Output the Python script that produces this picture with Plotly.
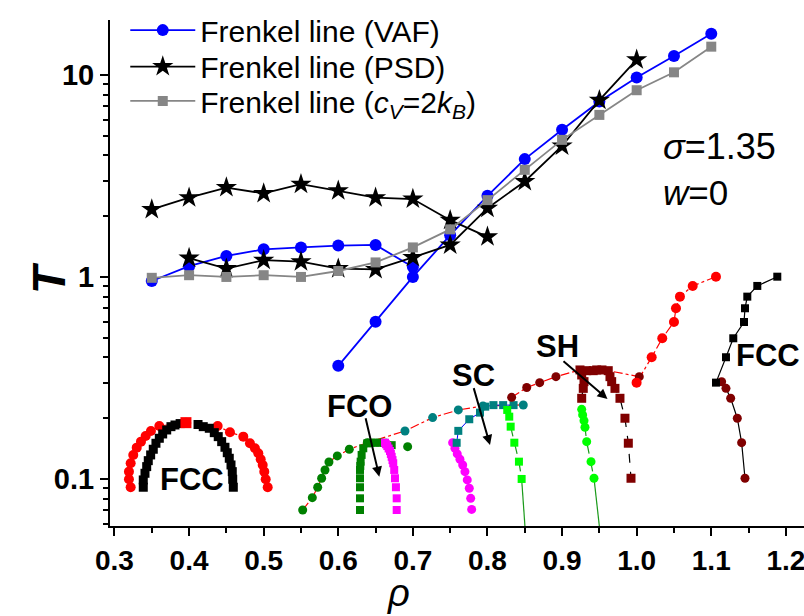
import math
import plotly.graph_objects as go

# ---------------- Frenkel lines ----------------
vaf_hi_rho = [0.35, 0.40, 0.45, 0.50, 0.55, 0.60, 0.65, 0.70]
vaf_hi_T = [0.955, 1.13, 1.27, 1.37, 1.40, 1.43, 1.44, 1.12]
vaf_lo_rho = [0.60, 0.65, 0.70, 0.75, 0.80, 0.85, 0.90, 0.95, 1.00, 1.05, 1.10]
vaf_lo_T = [0.363, 0.60, 1.0, 1.61, 2.52, 3.83, 5.35, 7.38, 9.7, 12.4, 16.0]

psd_hi_rho = [0.35, 0.40, 0.45, 0.50, 0.55, 0.60, 0.65, 0.70, 0.75, 0.80]
psd_hi_T = [2.16, 2.47, 2.77, 2.59, 2.88, 2.67, 2.47, 2.43, 1.91, 1.58]
psd_lo_rho = [0.40, 0.45, 0.50, 0.55, 0.60, 0.65, 0.70, 0.75, 0.80, 0.85, 0.90, 0.95, 1.00]
psd_lo_T = [1.24, 1.10, 1.21, 1.19, 1.10, 1.09, 1.25, 1.44, 2.19, 2.97, 4.45, 7.5, 11.9]

cv_rho = [0.35, 0.40, 0.45, 0.50, 0.55, 0.60, 0.65, 0.70, 0.75, 0.80, 0.85, 0.90, 0.95, 1.00, 1.05, 1.10]
cv_T = [0.99, 1.02, 1.0, 1.02, 1.0, 1.07, 1.18, 1.40, 1.72, 2.40, 3.39, 4.77, 6.34, 8.4, 10.3, 13.8]

# ---------------- phase diagram ----------------
# low-density FCC dome
fccL_liq_rho = [0.3217, 0.3194, 0.3194, 0.3217, 0.3252, 0.3298, 0.3355, 0.3418, 0.3489, 0.3601, 0.3958,
                0.4383, 0.4548, 0.4727, 0.4816, 0.4883, 0.4928, 0.4960, 0.4987, 0.5008, 0.5027, 0.5054]
fccL_liq_T = [0.0910, 0.0997, 0.1087, 0.1196, 0.1315, 0.1429, 0.1530, 0.1633, 0.1728, 0.1829, 0.1900,
              0.1829, 0.1703, 0.1620, 0.1502, 0.1419, 0.1340, 0.1252, 0.1173, 0.1087, 0.0997, 0.0910]
fccL_top_rho = [0.3958]
fccL_top_T = [0.1900]
fccL_sol_rho = [0.3386, 0.3386, 0.3409, 0.3432, 0.3453, 0.3485, 0.3520, 0.3556, 0.3601, 0.3646, 0.3700,
                0.3757, 0.3811, 0.3880, 0.4120, 0.4190, 0.4271, 0.4338, 0.4391, 0.4437, 0.4481, 0.4512,
                0.4539, 0.4562, 0.4579, 0.4585, 0.4593]
fccL_sol_T = [0.0910, 0.0989, 0.1067, 0.1151, 0.1232, 0.1315, 0.1403, 0.1502, 0.1590, 0.1670, 0.1748,
              0.1815, 0.1850, 0.1880, 0.1860, 0.1815, 0.1782, 0.1695, 0.1620, 0.1530, 0.1435, 0.1349,
              0.1266, 0.1173, 0.1087, 0.0997, 0.0910]

# FCO
fco_liq_rho = [0.5523, 0.5652, 0.5724, 0.5777, 0.5822, 0.5875, 0.5987, 0.6148, 0.6389]
fco_liq_T = [0.0702, 0.0808, 0.0910, 0.1008, 0.1108, 0.1214, 0.1300, 0.1403, 0.1512]
fco_liq2_rho = [0.693]
fco_liq2_T = [0.1445]
fco_sol_rho = [0.6291, 0.6291, 0.6291, 0.6291, 0.6291, 0.6295, 0.6300, 0.6313, 0.6335, 0.6389, 0.6440,
               0.6492, 0.6550, 0.6604, 0.6716]
fco_sol_T = [0.0702, 0.0802, 0.0910, 0.1008, 0.1108, 0.1160, 0.1218, 0.1315, 0.1419, 0.1500, 0.1512,
             0.1512, 0.1512, 0.1512, 0.1470]
mag_sq_rho = [0.6783, 0.6783, 0.6773, 0.6760, 0.6750, 0.6737, 0.6727, 0.6716, 0.6705, 0.6693, 0.6675,
              0.6657, 0.6640, 0.6626]
mag_sq_T = [0.0702, 0.0802, 0.0910, 0.1008, 0.1108, 0.1196, 0.1240, 0.1287, 0.1330, 0.1375, 0.1415,
            0.1455, 0.1485, 0.1512]
mag_ci_rho = [0.7533, 0.7564, 0.7595, 0.7631, 0.7668, 0.7698, 0.7729, 0.7756, 0.7775, 0.7788]
mag_ci_T = [0.1512, 0.1419, 0.1330, 0.1252, 0.1173, 0.1087, 0.0989, 0.0900, 0.0802, 0.0707]

# SC
sc_liq_rho = [0.6894, 0.7265, 0.7609, 0.7940, 0.8480]
sc_liq_T = [0.1728, 0.2012, 0.2196, 0.2298, 0.2324]
sc_sol_rho = [0.7587, 0.7609, 0.7756, 0.7900, 0.7970, 0.8080, 0.8210, 0.8350]
sc_sol_T = [0.151, 0.173, 0.1975, 0.213, 0.228, 0.232, 0.232, 0.232]
lg_sq_rho = [0.8265, 0.8292, 0.8311, 0.8360, 0.8422, 0.8458]
lg_sq_T = [0.2196, 0.2034, 0.1815, 0.1512, 0.1218, 0.1000]
lg_sq_ext_rho = [0.8458, 0.8515]
lg_sq_ext_T = [0.1000, 0.050]

# SH
sh_liq_rho = [0.8324, 0.8526, 0.8700, 0.8918]
sh_liq_T = [0.2536, 0.2836, 0.2998, 0.3209]
sh_sol_rho = [0.9263, 0.9284, 0.9294, 0.9263, 0.9240, 0.9330, 0.9418, 0.9464, 0.9535, 0.9619, 0.9642,
              0.9665, 0.9709, 0.9776, 0.9843, 0.9888, 0.9924]
sh_sol_T = [0.2508, 0.2808, 0.3032, 0.3272, 0.3464, 0.3436, 0.3436, 0.3464, 0.3464, 0.3436, 0.3209,
            0.3032, 0.2808, 0.2508, 0.1998, 0.1503, 0.1008]
lg_ci_rho = [0.9263, 0.9276, 0.9294, 0.9307, 0.9330, 0.9388, 0.9428]
lg_ci_T = [0.2212, 0.2075, 0.1943, 0.1803, 0.1530, 0.1218, 0.1008]
lg_ci_ext_rho = [0.9428, 0.9520]
lg_ci_ext_T = [0.1008, 0.050]
sh_liq2_rho = [1.0035]
sh_liq2_T = [0.3209]

# high-density FCC
fccH_liq_rho = [0.9999, 1.0201, 1.0343, 1.0500, 1.0527, 1.0580, 1.0751, 1.1063]
fccH_liq_T = [0.2998, 0.4004, 0.4970, 0.5985, 0.6998, 0.7989, 0.9025, 1.003]
fccH_sol_rho = [1.1885, 1.1617, 1.1483, 1.1452, 1.1439, 1.1295, 1.1197, 1.1063]
fccH_sol_T = [1.003, 0.9025, 0.7989, 0.6998, 0.5985, 0.4970, 0.4004, 0.2998]
fccH_low_rho = [1.1139, 1.1197, 1.1260, 1.1349, 1.1407, 1.1452]
fccH_low_T = [0.3030, 0.2808, 0.2508, 0.1998, 0.1512, 0.1008]

FONT = "Liberation Sans, Arial, sans-serif"
NARROW = "Liberation Sans Narrow, Arial Narrow, Liberation Sans, Arial"
RED = "#ff0000"
DRED = "#800000"
DGREEN = "#008000"
LGREEN = "#00ff00"
MAG = "#ff00ff"
TEAL = "#008080"
LINEGREEN = "#1a9a1a"

fig = go.Figure()


def add(x, y, color, symbol="circle", size=9, mode="markers", line_color=None, dash="solid",
        lw=1.0, name=None, legend=False, group=None, legend_id="legend"):
    fig.add_trace(go.Scatter(
        x=x, y=y, mode=mode, name=name, showlegend=legend, legendgroup=group, legend=legend_id,
        marker=dict(color=color, symbol=symbol, size=size, line=dict(width=0)),
        line=dict(color=line_color or color, width=lw, dash=dash),
        hoverinfo="x+y"))


# melting (red dash-dot) lines built from the liquid-side data
melt1_rho = fco_liq_rho + sc_liq_rho
melt1_T = fco_liq_T + sc_liq_T
melt2_rho = sh_liq_rho + [sh_sol_rho[4], sh_sol_rho[9]] + sh_liq2_rho + fccH_liq_rho
melt2_T = sh_liq_T + [sh_sol_T[4], sh_sol_T[9]] + sh_liq2_T + fccH_liq_T
add(melt1_rho, melt1_T, RED, mode="lines", dash="dashdot", lw=1.2)
add(melt2_rho, melt2_T, RED, mode="lines", dash="dashdot", lw=1.2)

# low-density FCC dome
add(fccL_liq_rho, fccL_liq_T, RED, size=10, mode="lines+markers", dash="dashdot", lw=1.2)
add(fccL_sol_rho, fccL_sol_T, "black", symbol="square", size=9)
add(fccL_top_rho, fccL_top_T, RED, symbol="square", size=11)

# FCO
add(fco_sol_rho, fco_sol_T, DGREEN, symbol="square", size=8)
add(fco_liq_rho, fco_liq_T, DGREEN, size=9)
add(fco_liq2_rho, fco_liq2_T, DGREEN, size=9)
add(mag_sq_rho, mag_sq_T, MAG, symbol="square", size=8)
add(mag_ci_rho, mag_ci_T, MAG, size=9)

# SC
add(sc_sol_rho, sc_sol_T, TEAL, symbol="square", size=8, mode="lines+markers", line_color="#0000ff", lw=1)
add(sc_liq_rho, sc_liq_T, TEAL, size=9)
add(lg_sq_ext_rho, lg_sq_ext_T, LINEGREEN, mode="lines", lw=1.2)
add(lg_sq_rho, lg_sq_T, LGREEN, symbol="square", size=8, mode="lines+markers",
    line_color=LINEGREEN, dash="dash", lw=1.2)

# SH
add(sh_liq_rho, sh_liq_T, DRED, size=9)
add(sh_liq2_rho, sh_liq2_T, DRED, size=9)
add(sh_sol_rho, sh_sol_T, DRED, symbol="square", size=9, mode="lines+markers",
    line_color="black", dash="dash", lw=1.2)
add(lg_ci_ext_rho, lg_ci_ext_T, LINEGREEN, mode="lines", lw=1.2)
add(lg_ci_rho, lg_ci_T, LGREEN, size=9, mode="lines+markers", line_color=LINEGREEN, dash="dash", lw=1.2)

# high-density FCC
add(fccH_liq_rho, fccH_liq_T, RED, size=10)
add(fccH_sol_rho + fccH_low_rho, fccH_sol_T + fccH_low_T, "black", mode="lines", lw=1.2)
add(fccH_low_rho, fccH_low_T, DRED, size=9)
add(fccH_sol_rho, fccH_sol_T, "black", symbol="square", size=8)

# Frenkel lines (each in its own legend box so the rows can be spaced like the original)
add(vaf_hi_rho, vaf_hi_T, "#0000ff", size=12, mode="lines+markers", lw=1.8,
    name="Frenkel line (VAF)", legend=True, group="vaf", legend_id="legend")
add(vaf_lo_rho, vaf_lo_T, "#0000ff", size=12, mode="lines+markers", lw=1.8, group="vaf")
add(psd_hi_rho, psd_hi_T, "black", symbol="star", size=16, mode="lines+markers", lw=1.8,
    name="Frenkel line (PSD)", legend=True, group="psd", legend_id="legend2")
add(psd_lo_rho, psd_lo_T, "black", symbol="star", size=16, mode="lines+markers", lw=1.8, group="psd",
    legend_id="legend2")
add(cv_rho, cv_T, "#868686", symbol="square", size=10, mode="lines+markers", lw=1.8,
    name="Frenkel line (<i>c</i><sub><i>V</i></sub>=2<i>k</i><sub><i>B</i></sub>)", legend=True,
    group="cv", legend_id="legend3")

L = math.log10
LBL = dict(size=31, family=FONT)
annotations = [
    dict(x=0.4042, y=-1.005, text="<b>FCC</b>", showarrow=False, font=LBL),
    dict(x=0.6278, y=-0.639, text="<b>FCO</b>", showarrow=False, font=LBL),
    dict(x=0.7806, y=-0.490, text="<b>SC</b>", showarrow=False, font=LBL),
    dict(x=0.8932, y=-0.3465, text="<b>SH</b>", showarrow=False, font=LBL),
    dict(x=1.176, y=-0.391, text="<b>FCC</b>", showarrow=False, font=LBL),
    dict(x=0.655, y=-0.9886, ax=0.6362, ay=-0.6916, axref="x", ayref="y", text="",
         showarrow=True, arrowhead=2, arrowsize=1, arrowwidth=2, arrowcolor="black"),
    dict(x=0.8034, y=-0.8317, ax=0.781, ay=-0.543, axref="x", ayref="y", text="",
         showarrow=True, arrowhead=2, arrowsize=1, arrowwidth=2, arrowcolor="black"),
    dict(x=0.9609, y=-0.604, ax=0.8999, ay=-0.4109, axref="x", ayref="y", text="",
         showarrow=True, arrowhead=2, arrowsize=1, arrowwidth=2, arrowcolor="black"),
    dict(x=1.032, y=0.648, xanchor="left", text="<i>σ</i>=1.35", showarrow=False,
         font=dict(size=36, family=FONT)),
    dict(x=1.032, y=0.416, xanchor="left", text="<i>w</i>=0", showarrow=False,
         font=dict(size=35, family=FONT)),
    dict(xref="paper", yref="paper", x=-0.088, y=0.49, xanchor="center", yanchor="middle",
         text="<b><i>T</i></b>", textangle=-90, showarrow=False, font=dict(size=46, family=FONT)),
    dict(xref="paper", yref="paper", x=0.416, y=-0.132, xanchor="center", yanchor="middle",
         text="<i>ρ</i>", showarrow=False, font=dict(size=38, family=FONT)),
]

LEG = dict(x=0.022, xanchor="left", yanchor="middle", bgcolor="rgba(0,0,0,0)",
           font=dict(size=30, family=FONT), itemsizing="trace", itemwidth=65)

fig.update_layout(
    width=804, height=616,
    margin=dict(l=110, r=0, t=20, b=90, autoexpand=False),
    paper_bgcolor="white", plot_bgcolor="white",
    font=dict(family=FONT, color="black", size=20),
    annotations=annotations,
    showlegend=True,
    legend=dict(LEG, y=0.980),
    legend2=dict(LEG, y=0.908),
    legend3=dict(LEG, y=0.840),
    xaxis=dict(range=[0.294, 1.2243], showgrid=False, zeroline=False, showline=True, automargin=False,
               linecolor="black", linewidth=2, ticks="outside", ticklen=8, tickwidth=2,
               tickcolor="black", tick0=0.3, dtick=0.1, tickformat=".1f", ticklabeloverflow="allow",
               tickfont=dict(family=NARROW, size=28, weight="bold"),
               minor=dict(ticks="outside", ticklen=5, tickwidth=2, tickcolor="black", dtick=0.05,
                          tick0=0.3, showgrid=False)),
    yaxis=dict(type="log", range=[L(0.0585), L(18.7)], showgrid=False, zeroline=False, showline=True,
               automargin=False,
               linecolor="black", linewidth=2, ticks="outside", ticklen=8, tickwidth=2,
               tickcolor="black", tickmode="array", tickvals=[0.1, 1, 10], ticktext=["0.1", "1", "10"],
               tickfont=dict(family=FONT, size=29, weight="bold"),
               minor=dict(ticks="outside", ticklen=5, tickwidth=1.5, tickcolor="black", tickmode="array",
                          tickvals=[0.06, 0.07, 0.08, 0.09, 0.2, 0.3, 0.4, 0.5, 0.6, 0.7, 0.8, 0.9,
                                    2, 3, 4, 5, 6, 7, 8, 9], showgrid=False)),
)

fig.write_html("out.html", config={"displayModeBar": False},
               post_script="document.body.style.margin='0';document.body.style.overflow='hidden';")
